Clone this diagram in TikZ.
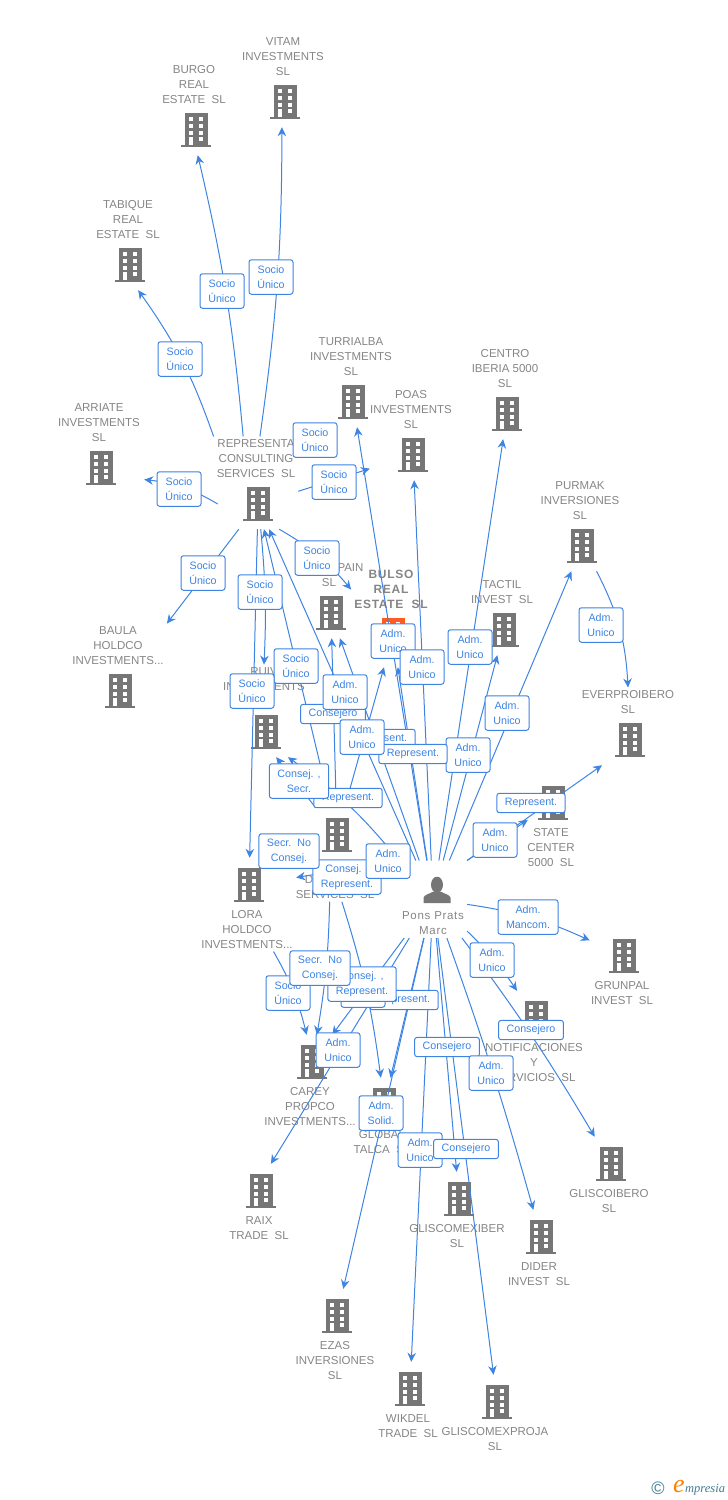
\documentclass[tikz,border=0pt]{standalone}
\usepackage{fontspec}
\setmainfont{Liberation Sans}
\newfontfamily\logofont{Liberation Serif}
\usetikzlibrary{arrows.meta}
\definecolor{linkblue}{HTML}{3D84E3}
\definecolor{bldggray}{HTML}{767676}
\definecolor{namegray}{HTML}{858585}
\definecolor{hotorange}{HTML}{FF5B22}
\definecolor{logoteal}{HTML}{3F7C94}
\tikzset{
  hub/.style={inner sep=0pt, minimum height=50pt},
  company/.style={align=center, inner sep=3pt, text=namegray, font=\fontsize{11.5}{15}\selectfont},
  link/.style={linkblue, line width=1pt, -{Stealth[length=9pt,width=8.5pt]}},
  linklabel/.style={draw=linkblue, fill=white, line width=1pt, rounded corners=2.5pt, align=center,
    text=linkblue, inner xsep=8pt, inner ysep=0pt, minimum width=44pt,
    font=\fontsize{10.7}{15}\selectfont}
}
% building icon in the given colour
\newcommand{\bldg}[1]{\tikz[x=1pt,y=-1pt]{
  \useasboundingbox (-15,-17) rectangle (15,17);
  \fill[#1] (-11.5,-17) rectangle (11.5,14.5);
  \fill[#1] (-15,14.5) rectangle (15,16.5);
  \foreach \col in {-5,5}
    \foreach \row in {-11,-4,3}
      \fill[white] (\col-2.4,\row-2.3) rectangle (\col+2.4,\row+2.3);
  \fill[white] (-7.4,7) rectangle (-2.6,14.5);
  \fill[white] (2.6,6.7) rectangle (7.4,11.4);
}}
% name, icon x, icon y, width met by the connectors, text
\newcommand{\upco}[5]{
  \node[hub,minimum width=#4] (#1) at (#2,#3) {\bldg{bldggray}};
  \node[company,anchor=south] (#1name) at (#2-2,#3-23) {#5};
}
\newcommand{\downco}[5]{
  \node[hub,minimum width=#4,minimum height=54pt] (#1) at (#2,#3) {\bldg{bldggray}};
  \node[company,anchor=north] (#1name) at (#2-2,#3+22) {#5};
}
\begin{document}
\begin{tikzpicture}[x=1pt,y=-1pt]
  \useasboundingbox (0,0) rectangle (728,1500);
  % companies
  \upco{vitam}{285}{102}{90}{VITAM\\INVESTMENTS\\SL}
  \upco{burgo}{196}{130}{70}{BURGO\\REAL\\ESTATE~~SL}
  \upco{tabique}{130}{265}{70}{TABIQUE\\REAL\\ESTATE~~SL}
  \upco{turrialba}{353}{402}{90}{TURRIALBA\\INVESTMENTS\\SL}
  \upco{poas}{413}{455}{86}{POAS\\INVESTMENTS\\SL}
  \upco{centro}{507}{414}{76}{CENTRO\\IBERIA 5000\\SL}
  \upco{arriate}{101}{468}{86}{ARRIATE\\INVESTMENTS\\SL}
  \upco{repres}{258}{504}{80}{REPRESENTA\\CONSULTING\\SERVICES~~SL}
  \upco{purmak}{582}{546}{84}{PURMAK\\INVERSIONES\\SL}
  \upco{baula}{120}{691}{94}{BAULA\\HOLDCO\\INVESTMENTS...}
  \upco{tactil}{504}{630}{70}{TACTIL\\INVEST~~SL}
  \upco{everpro}{630}{740}{98}{EVERPROIBERO\\SL}
  \upco{spain}{331}{613}{74}{\hspace*{43pt}PAIN\\SL}
  \upco{ruiv}{266}{732}{90}{RUIV\\INVESTMENTS\\SL}
  \node[hub,minimum width=80,minimum height=54pt] (dserv) at (337,835) {\bldg{bldggray}};
  \node[company] (dservname) at (335,887) {D\hspace*{52pt}\\SERVICES~~SL};
  \node[hub,minimum width=76,minimum height=64pt] (bulso) at (393,635) {\bldg{hotorange}};
  \node[company,anchor=south,font=\fontsize{12}{15}\bfseries\addfontfeature{LetterSpace=6}] (bulsoname) at (391,612)
    {BULSO\\REAL\\ESTATE~~SL};
  \downco{state}{553}{803}{50}{STATE\\CENTER\\5000~~SL}
  \downco{lora}{249}{885}{94}{LORA\\HOLDCO\\INVESTMENTS...}
  \downco{grunpal}{624}{956}{68}{GRUNPAL\\INVEST~~SL}
  \downco{notif}{536}{1018}{100}{NOTIFICACIONES\\Y\\SERVICIOS~~SL}
  \downco{carey}{312}{1062}{94}{CAREY\\PROPCO\\INVESTMENTS...}
  \downco{global}{384}{1105}{60}{GLOBAL\\TALCA~~SL}
  \downco{gliscoib}{611}{1164}{84}{GLISCOIBERO\\SL}
  \downco{raix}{261}{1191}{64}{RAIX\\TRADE~~SL}
  \downco{gliscomex}{459}{1199}{100}{GLISCOMEXIBER\\SL}
  \downco{dider}{541}{1237}{66}{DIDER\\INVEST~~SL}
  \downco{ezas}{337}{1316}{84}{EZAS\\INVERSIONES\\SL}
  \downco{wikdel}{410}{1389}{64}{WIKDEL\\TRADE~~SL}
  \downco{gliscopro}{497}{1402}{110}{GLISCOMEXPROJA\\SL}
  % the person
  \node[company,anchor=south,font=\fontsize{11.5}{15}\selectfont\addfontfeature{LetterSpace=6}] (pons) at (433,938) {\tikz[x=1pt,y=-1pt]{
      \useasboundingbox (-16,-27) rectangle (12,13);
      \fill[bldggray] (2,-6) ellipse (6 and 8);
      \fill[bldggray] (-11.5,12.5) -- (-11.5,7) .. controls (-11,4) and (-5,3) .. (-2,1)
        -- (6,1) .. controls (9,3) and (15,4) .. (15.5,7) -- (15.5,12.5) -- cycle;
    }\\[1pt]Pons Prats\\Marc};
  % connectors
  \foreach \from/\to in {represname.15/turrialba, repres/poas, repres/baulaname.north east, repres/lora,
      dserv/repres, dserv/spain, dserv/bulso, dserv/ruiv.-68, dserv/lora,
      pons/repres, pons/turrialba, pons/poas, pons/centro, pons/purmak, pons/tactil,
      pons/bulso, pons/spain, pons.north east/everpro.-138, pons.north east/state, pons/dserv, pons.north west/lora.9,
      pons/gliscomex, pons/gliscopro, pons/wikdel, pons/ezas, pons/global, pons/raix.70, pons/carey}
    \draw[link] (\from) -- (\to);
  \foreach \from/\to/\bnd in {represname.120/burgo.-86/-4, represname.80/vitam.-97/-4, represname.north west/tabique.-72/-8,
      repres.west/arriate.-15/-12, repres.-50/bulsoname.west/10, repres/ruivname.north/4,
      dservname.-110/carey/4, dservname.-65/global/5, loraname.-40/carey/8, purmak/everproname.north/12,
      pons.north west/ruiv.-49/-8, pons/grunpal/8, pons/notif/6, pons/gliscoib/3, pons/dider/2}
    \draw[link] (\from) to[bend left=\bnd] (\to);
  % labels on the connectors, lowest first
  \foreach \nm/\x/\y/\h/\txt in {
      lvitam/271/277/34.5/{Socio\\Único}, lburgo/222/291/34.5/{Socio\\Único},
      ltabique/180/359/34.5/{Socio\\Único}, larriate/179/489/34.5/{Socio\\Único},
      lbaula/203/573/34.5/{Socio\\Único}, lturri/315/440/34.5/{Socio\\Único},
      lpoas/334/482/34.5/{Socio\\Único}, lbulso/317/558/34.5/{Socio\\Único},
      lruiv/260/592/34.5/{Socio\\Único}, lrepd/296/666/34.5/{Socio\\Único},
      lrepl/252/691/34.5/{Socio\\Único},
      lspaind/333/714/19.3/{Consejero}, lspainp/381/739/19.3/{Represent.},
      lrepp/345/692/34.5/{Adm.\\Unico}, lpturri/393/641/34.5/{Adm.\\Unico},
      lppoas/422/667/34.5/{Adm.\\Unico}, lpcentro/470/647/34.5/{Adm.\\Unico},
      lppurmak/507/713/34.5/{Adm.\\Unico}, lptactil/468/755/34.5/{Adm.\\Unico},
      lpbulso/413/754/19.3/{Represent.}, ldbulso/362/737/34.5/{Adm.\\Unico},
      lpruiv/348/798/19.3/{Represent.}, ldruiv/299/781/34.5/{Consej. ,\\Secr.},
      lever/531/803/19.3/{Represent.}, lstate/495/840/34.5/{Adm.\\Unico},
      lpurever/601/625/34.5/{Adm.\\Unico},
      lplora/347/877/34.5/{Consej. ,\\Represent.}, lpdserv/388/861/34.5/{Adm.\\Unico},
      ldlora/289/851/34.5/{Secr.~~No\\Consej.},
      lgrun/528/917/34.5/{Adm.\\Mancom.}, lnotif/492/960/34.5/{Adm.\\Unico},
      lloracar/288/993/34.5/{Socio\\Único}, lpglobal/404/1000/19.3/{Represent.},
      lpcarey/363/990/34.5/{}, ldglobal/362/984/34.5/{Consej. ,\\Represent.},
      ldcarey/320/968/34.5/{Secr.~~No\\Consej.}, lraix/338/1050/34.5/{Adm.\\Unico},
      lgme/447/1047/19.3/{Consejero}, lglisco/531/1030/19.3/{Consejero},
      ldider/491/1073/34.5/{Adm.\\Unico}, lezas/381/1113/34.5/{Adm.\\Solid.},
      lwik/420/1150/34.5/{Adm.\\Unico}, lgmp/466/1149/19.3/{Consejero}}
    \node[linklabel,minimum height=\h] (\nm) at (\x,\y) {\txt};
  % logo
  \node[inner sep=0pt,text=logoteal,font=\fontsize{18}{18}\selectfont] (logoc) at (658,1488.5) {©};
  \node[inner sep=0pt,text=orange,font=\logofont\itshape\fontsize{26}{26}\selectfont] (logoe) at (679,1486) {e};
  \node[inner sep=0pt,anchor=west,text=logoteal,font=\logofont\itshape\fontsize{12.5}{13}\selectfont] (logow) at (685,1490) {mpresia};
\end{tikzpicture}
\end{document}
